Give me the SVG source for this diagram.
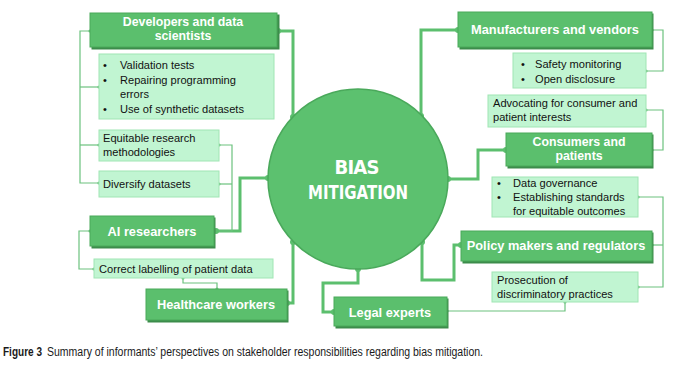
<svg xmlns="http://www.w3.org/2000/svg" width="680" height="369" viewBox="0 0 680 369">
<defs>
<style>
.dk{fill:#5bbf6d;stroke:#4aa95b;stroke-width:1}
.sh{fill:#3c8c4b}
.lt{fill:#c1f5d2;stroke:#a0e5b4;stroke-width:1}
.hd{font-family:"Liberation Sans",Arial,sans-serif;font-weight:bold;font-size:12.8px;fill:#ffffff;text-anchor:middle}
.hd2{font-size:12.3px}
.tx{font-family:"Liberation Sans",Arial,sans-serif;font-size:11.1px;fill:#111111}
.thick{fill:none;stroke:#5cbf6e;stroke-width:3}
.thin{fill:none;stroke:#6cc27e;stroke-width:1.2}
.d1{fill:#5cbf6e}
.d2{fill:#6cc27e}
</style>
</defs>
<rect width="680" height="369" fill="#ffffff"/>

<g id="connectors">
<polyline class="thick" points="278,31 293,31 293,117"/>
<polyline class="thick" points="458,30 421,30 421,116"/>
<polyline class="thick" points="216,231 240,231 240,178 268,178"/>
<polyline class="thick" points="287,303 293,303 293,242"/>
<polyline class="thick" points="334,312 323,312 323,283 358,283 358,269"/>
<polyline class="thick" points="506,150 478,150 478,179 448,179"/>
<polyline class="thick" points="422,242 422,280 454,280 454,245 461,245"/>
<polyline class="thin" points="90,31 80,31 80,183 99,183"/>
<line class="thin" x1="80" y1="87" x2="99" y2="87"/>
<line class="thin" x1="80" y1="145" x2="99" y2="145"/>
<polyline class="thin" points="219,145 232,145 232,231 216,231"/>
<line class="thin" x1="219" y1="184" x2="232" y2="184"/>
<polyline class="thin" points="90,231 79,231 79,269 94,269"/>
<polyline class="thin" points="183,278 183,283 217,283 217,289"/>
<polyline class="thin" points="447,311 565,311 565,302"/>
<polyline class="thin" points="638,197 663,197 663,287 638,287"/>
<line class="thin" x1="652" y1="245" x2="663" y2="245"/>
<polyline class="thin" points="652,30 663,30 663,71 646,71"/>
<polyline class="thin" points="646,110 663,110 663,150 652,150"/>
<circle class="d1" cx="293" cy="117" r="3"/>
<circle class="d1" cx="278" cy="31" r="3"/>
<circle class="d1" cx="421" cy="116" r="3"/>
<circle class="d1" cx="458" cy="30" r="3"/>
<circle class="d1" cx="268" cy="178" r="3"/>
<circle class="d1" cx="216" cy="231" r="3"/>
<circle class="d1" cx="293" cy="242" r="3"/>
<circle class="d1" cx="287" cy="303" r="3"/>
<circle class="d1" cx="358" cy="269" r="3"/>
<circle class="d1" cx="334" cy="312" r="3"/>
<circle class="d1" cx="448" cy="179" r="3"/>
<circle class="d1" cx="506" cy="150" r="3"/>
<circle class="d1" cx="422" cy="242" r="3"/>
<circle class="d1" cx="461" cy="245" r="3"/>
<circle class="d2" cx="99" cy="87" r="1.6"/>
<circle class="d2" cx="99" cy="145" r="1.6"/>
<circle class="d2" cx="99" cy="183" r="1.6"/>
<circle class="d2" cx="219" cy="145" r="1.6"/>
<circle class="d2" cx="219" cy="184" r="1.6"/>
<circle class="d2" cx="94" cy="269" r="1.6"/>
<circle class="d2" cx="183" cy="278" r="1.6"/>
<circle class="d2" cx="217" cy="289" r="1.6"/>
<circle class="d2" cx="565" cy="302" r="1.6"/>
<circle class="d2" cx="638" cy="197" r="1.6"/>
<circle class="d2" cx="638" cy="287" r="1.6"/>
<circle class="d2" cx="646" cy="71" r="1.6"/>
<circle class="d2" cx="646" cy="110" r="1.6"/>
<circle class="d2" cx="652" cy="150" r="1.6"/>
<circle class="d2" cx="652" cy="30" r="1.6"/>
<circle class="d2" cx="652" cy="245" r="1.6"/>
<circle class="d2" cx="447" cy="311" r="1.6"/>
<circle class="d2" cx="90" cy="31" r="1.6"/>
<circle class="d2" cx="90" cy="231" r="1.6"/>
</g>

<g id="bias-mitigation">
<circle cx="358" cy="179" r="90" fill="#5cc16f" stroke="#4aa95b" stroke-width="1.5"/>
<text x="357" y="174" font-family="'DejaVu Sans',sans-serif" font-stretch="condensed" font-weight="bold" font-size="20" fill="#ffffff" text-anchor="middle" textLength="45" lengthAdjust="spacing">BIAS</text>
<text x="358" y="199" font-family="'DejaVu Sans',sans-serif" font-stretch="condensed" font-weight="bold" font-size="20" fill="#ffffff" text-anchor="middle" textLength="100" lengthAdjust="spacingAndGlyphs">MITIGATION</text>
</g>

<g id="developers">
<rect class="sh" x="91.5" y="14.5" width="188" height="35"/>
<rect class="dk" x="90" y="13" width="187" height="34"/>
<text class="hd hd2" x="183" y="25.5">Developers and data</text>
<text class="hd hd2" x="183" y="39.5">scientists</text>
</g>
<g id="dev-tasks">
<rect class="lt" x="99" y="54" width="175" height="65"/>
<text class="tx" x="103" y="69">•</text><text class="tx" x="120" y="69">Validation tests</text>
<text class="tx" x="103" y="84">•</text><text class="tx" x="120" y="84">Repairing programming</text>
<text class="tx" x="120" y="98">errors</text>
<text class="tx" x="103" y="113">•</text><text class="tx" x="120" y="113">Use of synthetic datasets</text>
</g>
<g id="equitable">
<rect class="lt" x="99" y="130" width="120" height="31"/>
<text class="tx" x="103" y="142">Equitable research</text>
<text class="tx" x="103" y="156">methodologies</text>
</g>
<g id="diversify">
<rect class="lt" x="99" y="171" width="120" height="26"/>
<text class="tx" x="103" y="188">Diversify datasets</text>
</g>
<g id="ai-researchers">
<rect class="sh" x="91.5" y="217.5" width="124" height="31"/>
<rect class="dk" x="90" y="216" width="124" height="30"/>
<text class="hd" x="152" y="235.5">AI researchers</text>
</g>
<g id="labelling">
<rect class="lt" x="94" y="259" width="179" height="19"/>
<text class="tx" x="99" y="272.5">Correct labelling of patient data</text>
</g>
<g id="healthcare">
<rect class="sh" x="147.5" y="290.5" width="141" height="32"/>
<rect class="dk" x="146" y="289" width="141" height="31"/>
<text class="hd" x="216" y="308.5">Healthcare workers</text>
</g>
<g id="legal">
<rect class="sh" x="335.5" y="298.5" width="113" height="30"/>
<rect class="dk" x="334" y="297" width="113" height="29"/>
<text class="hd" x="390" y="316.5">Legal experts</text>
</g>
<g id="manufacturers">
<rect class="sh" x="459.5" y="13.5" width="194" height="36"/>
<rect class="dk" x="458" y="12" width="194" height="35"/>
<text class="hd" x="555" y="34">Manufacturers and vendors</text>
</g>
<g id="safety">
<rect class="lt" x="513" y="53" width="133" height="35"/>
<text class="tx" x="521" y="67.5">•</text><text class="tx" x="535" y="67.5">Safety monitoring</text>
<text class="tx" x="521" y="83">•</text><text class="tx" x="535" y="83">Open disclosure</text>
</g>
<g id="advocating">
<rect class="lt" x="488" y="95" width="158" height="32"/>
<text class="tx" x="493" y="107">Advocating for consumer and</text>
<text class="tx" x="493" y="121">patient interests</text>
</g>
<g id="consumers">
<rect class="sh" x="507.5" y="134.5" width="146" height="34"/>
<rect class="dk" x="506" y="133" width="146" height="33"/>
<text class="hd hd2" x="579" y="146">Consumers and</text>
<text class="hd hd2" x="579" y="160">patients</text>
</g>
<g id="data-governance">
<rect class="lt" x="492" y="177" width="146" height="40"/>
<text class="tx" x="497" y="186.5">•</text><text class="tx" x="513" y="186.5">Data governance</text>
<text class="tx" x="497" y="201">•</text><text class="tx" x="513" y="201">Establishing standards</text>
<text class="tx" x="513" y="215">for equitable outcomes</text>
</g>
<g id="policy">
<rect class="sh" x="462.5" y="232.5" width="191" height="31"/>
<rect class="dk" x="461" y="231" width="191" height="30"/>
<text class="hd" x="556" y="250">Policy makers and regulators</text>
</g>
<g id="prosecution">
<rect class="lt" x="492" y="272" width="146" height="30"/>
<text class="tx" x="497" y="284">Prosecution of</text>
<text class="tx" x="497" y="298">discriminatory practices</text>
</g>

<g id="caption">
<text x="3" y="356" font-family="'Liberation Sans',Arial,sans-serif" font-size="12" font-weight="bold" fill="#1a1a1a" textLength="39" lengthAdjust="spacingAndGlyphs">Figure 3</text>
<text x="47" y="356" font-family="'Liberation Sans',Arial,sans-serif" font-size="12" fill="#1a1a1a" textLength="436" lengthAdjust="spacingAndGlyphs">Summary of informants’ perspectives on stakeholder responsibilities regarding bias mitigation.</text>
</g>
</svg>
